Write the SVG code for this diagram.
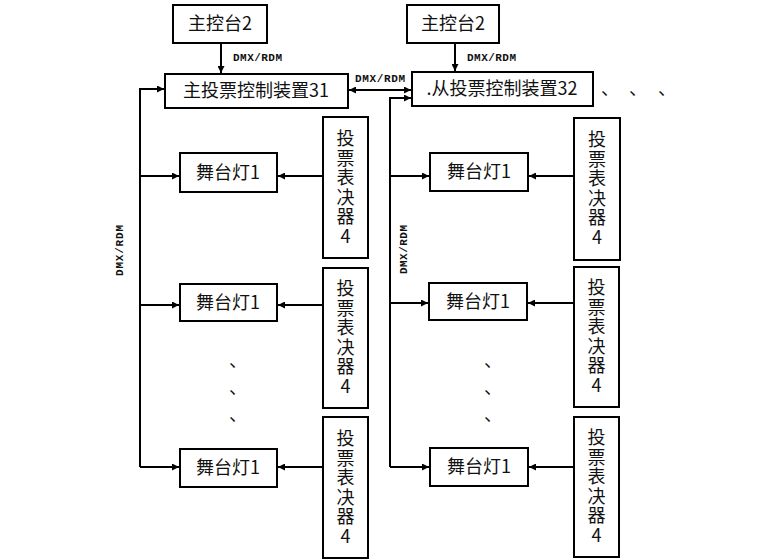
<svg xmlns="http://www.w3.org/2000/svg" width="780" height="560" viewBox="0 0 780 560">
<style>
.box{fill:#fff;stroke:#000;stroke-width:2}
.t{font-family:"Noto Sans CJK SC","Liberation Sans",sans-serif;font-size:18px;fill:#111;text-anchor:middle}
.v{font-family:"Noto Sans CJK SC","Liberation Sans",sans-serif;font-size:18px;fill:#111;text-anchor:middle;writing-mode:vertical-rl;text-orientation:upright;letter-spacing:1.6px}
.lbl{font-family:"Liberation Mono",monospace;font-size:11px;font-weight:bold;fill:#111}
.ln{stroke:#000;stroke-width:2;fill:none}
.dot{font-family:"Noto Sans CJK SC",sans-serif;font-size:18px;fill:#111}
</style>
<defs>
<marker id="ah" viewBox="0 0 10 10" refX="10" refY="5" markerWidth="8" markerHeight="7" markerUnits="userSpaceOnUse" orient="auto-start-reverse">
<path d="M0,0 L10,5 L0,10 z" fill="#000"/>
</marker>
</defs>
<rect width="780" height="560" fill="#fff"/>
<g id="connectors">
<line class="ln" x1="221" y1="43" x2="221" y2="73" marker-end="url(#ah)"/>
<line class="ln" x1="455" y1="43" x2="455" y2="71" marker-end="url(#ah)"/>
<line class="ln" x1="349" y1="90" x2="411" y2="90" marker-start="url(#ah)" marker-end="url(#ah)"/>
<polyline class="ln" points="390,467 390,98 411,98" marker-end="url(#ah)"/>
<polyline class="ln" points="140,467 140,89 164,89" marker-end="url(#ah)"/>
<line class="ln" x1="140" y1="176" x2="179" y2="176" marker-end="url(#ah)"/>
<line class="ln" x1="323" y1="176" x2="278" y2="176" marker-end="url(#ah)"/>
<line class="ln" x1="140" y1="305" x2="179" y2="305" marker-end="url(#ah)"/>
<line class="ln" x1="323" y1="305" x2="278" y2="305" marker-end="url(#ah)"/>
<line class="ln" x1="140" y1="467" x2="179" y2="467" marker-end="url(#ah)"/>
<line class="ln" x1="323" y1="467" x2="278" y2="467" marker-end="url(#ah)"/>
<line class="ln" x1="390" y1="176" x2="429" y2="176" marker-end="url(#ah)"/>
<line class="ln" x1="574" y1="176" x2="529" y2="176" marker-end="url(#ah)"/>
<line class="ln" x1="390" y1="303" x2="428" y2="303" marker-end="url(#ah)"/>
<line class="ln" x1="574" y1="303" x2="528" y2="303" marker-end="url(#ah)"/>
<line class="ln" x1="390" y1="467" x2="429" y2="467" marker-end="url(#ah)"/>
<line class="ln" x1="574" y1="467" x2="529" y2="467" marker-end="url(#ah)"/>
<text class="lbl" x="233" y="61" textLength="49">DMX/RDM</text>
<text class="lbl" x="467" y="61" textLength="49">DMX/RDM</text>
<text class="lbl" x="355" y="82" textLength="50">DMX/RDM</text>
<text class="lbl" transform="translate(123,276) rotate(-90)" textLength="51">DMX/RDM</text>
<text class="lbl" transform="translate(407,274) rotate(-90)" textLength="49">DMX/RDM</text>
</g>
<g id="console-left"><rect class="box" x="173" y="5" width="94" height="38"/><text class="t" x="220" y="30">主控台2</text></g>
<g id="console-right"><rect class="box" x="407" y="5" width="92" height="38"/><text class="t" x="453" y="30">主控台2</text></g>
<g id="master"><rect class="box" x="165" y="74" width="183" height="34"/><text class="t" x="256" y="97">主投票控制装置31</text></g>
<g id="slave"><rect class="box" x="412" y="72" width="181" height="34"/><text class="t" x="502" y="95">.从投票控制装置32</text></g>
<g id="more-slaves"><text class="dot" x="601" y="95">、</text><text class="dot" x="629" y="95">、</text><text class="dot" x="658" y="95">、</text></g>
<g id="lamp-l1"><rect class="box" x="180" y="153" width="97" height="39"/><text class="t" x="228" y="179">舞台灯1</text></g>
<g id="lamp-l2"><rect class="box" x="180" y="284" width="97" height="37"/><text class="t" x="228" y="309">舞台灯1</text></g>
<g id="lamp-l3"><rect class="box" x="180" y="449" width="97" height="38"/><text class="t" x="228" y="474">舞台灯1</text></g>
<g id="lamp-r1"><rect class="box" x="430" y="153" width="98" height="38"/><text class="t" x="479" y="178">舞台灯1</text></g>
<g id="lamp-r2"><rect class="box" x="429" y="283" width="98" height="37"/><text class="t" x="478" y="308">舞台灯1</text></g>
<g id="lamp-r3"><rect class="box" x="430" y="448" width="98" height="38"/><text class="t" x="479" y="473">舞台灯1</text></g>
<g id="voter-l1"><rect class="box" x="323" y="117" width="45" height="141"/><text class="v" x="345.5" y="188">投票表决器4</text></g>
<g id="voter-l2"><rect class="box" x="323" y="268" width="45" height="140"/><text class="v" x="345.5" y="338">投票表决器4</text></g>
<g id="voter-l3"><rect class="box" x="323" y="417" width="45" height="141"/><text class="v" x="345.5" y="488">投票表决器4</text></g>
<g id="voter-r1"><rect class="box" x="574" y="118" width="46" height="142"/><text class="v" x="597" y="189">投票表决器4</text></g>
<g id="voter-r2"><rect class="box" x="574" y="267" width="45" height="140"/><text class="v" x="596.5" y="337">投票表决器4</text></g>
<g id="voter-r3"><rect class="box" x="574" y="417" width="45" height="140"/><text class="v" x="596.5" y="487">投票表决器4</text></g>
<g id="ellipsis-left"><text class="dot" x="229" y="367">、</text><text class="dot" x="229" y="394">、</text><text class="dot" x="229" y="421">、</text></g>
<g id="ellipsis-right"><text class="dot" x="484" y="367">、</text><text class="dot" x="484" y="394">、</text><text class="dot" x="484" y="421">、</text></g>
</svg>
